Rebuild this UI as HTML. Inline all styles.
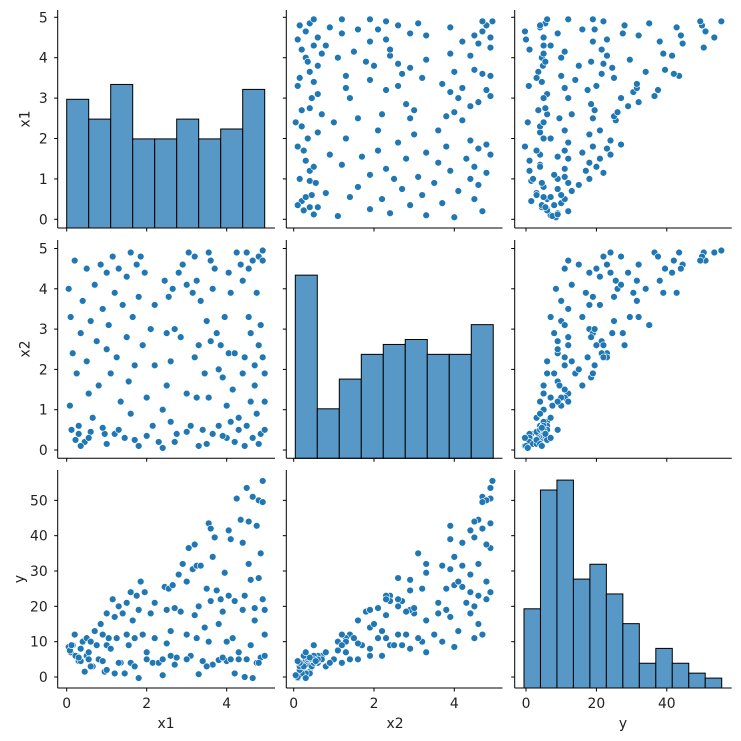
<!DOCTYPE html>
<html><head><meta charset="utf-8"><style>
html,body{margin:0;padding:0;background:#fff;}
svg{display:block;font-family:"DejaVu Sans","Liberation Sans",sans-serif;}
</style></head><body>
<svg id="chart" width="741" height="741" viewBox="0 0 741 741" xmlns="http://www.w3.org/2000/svg"></svg>
<script>
// data: [x1, x2, y]
const x1Vals=[0.05,0.1,0.15,0.2,0.25,0.3,0.35,0.4,0.45,0.5,0.5,0.55,0.6,0.65,0.7,0.75,0.8,0.85,0.9,0.95,1.0,1.0,1.05,1.1,1.15,1.2,1.2,1.25,1.3,1.35,1.4,1.45,1.5,1.5,1.55,1.6,1.6,1.65,1.7,1.75,1.8,1.8,1.85,1.9,1.95,2.0,2.1,2.15,2.2,2.2,2.3,2.4,2.45,2.5,2.5,2.55,2.6,2.6,2.65,2.7,2.75,2.8,2.85,2.9,3.0,3.0,3.05,3.1,3.15,3.2,3.2,3.25,3.25,3.3,3.3,3.35,3.4,3.45,3.5,3.55,3.55,3.6,3.6,3.65,3.65,3.7,3.75,3.8,3.8,3.85,3.9,3.95,4.0,4.0,4.05,4.05,4.1,4.1,4.15,4.2,4.2,4.25,4.3,4.35,4.4,4.4,4.45,4.45,4.5,4.5,4.55,4.55,4.6,4.6,4.65,4.65,4.7,4.7,4.75,4.75,4.8,4.8,4.85,4.85,4.9,4.9,4.9,4.95,4.95,4.95,0.6,1.0,1.3,2.0,2.7,3.0,3.5,4.3,0.9,1.7,2.4,3.9,4.8,0.35,0.08,0.12,0.22,0.3,0.55];
const x2Vals=[4.0,3.3,2.4,4.7,1.9,0.6,2.9,3.7,0.2,2.2,4.5,1.4,3.2,0.8,4.1,2.7,1.6,4.6,3.5,0.4,2.5,4.4,3.1,1.9,4.8,0.4,3.9,2.3,4.5,1.2,3.6,0.3,2.8,4.3,1.7,4.9,0.9,3.3,2.1,4.6,0.1,3.8,4.8,2.6,4.4,1.3,3.0,0.6,2.1,3.6,0.2,1.0,4.2,2.9,1.6,3.8,2.2,0.7,4.0,3.0,0.4,4.4,2.8,4.6,4.1,1.4,4.9,0.6,3.9,2.3,4.8,1.3,4.2,0.1,2.6,3.7,0.5,1.9,3.2,1.3,4.9,2.7,4.7,0.4,4.0,4.5,2.9,0.6,2.0,2.6,1.8,3.3,0.3,1.1,4.4,2.4,0.7,3.9,1.5,2.4,0.2,4.9,0.8,4.6,1.9,4.2,0.1,2.3,0.6,4.9,3.3,4.5,1.2,2.9,0.3,4.7,1.6,2.1,3.9,0.9,4.8,2.6,3.1,0.4,4.95,2.3,4.7,1.9,0.5,1.2,0.45,0.15,0.5,0.35,0.2,0.45,0.15,0.5,0.55,0.25,0.05,0.35,0.15,0.1,1.1,0.5,0.25,0.4,0.3];
const yVals=[8.5,7,9,12,6,4.5,8,10,1.5,6,11,5,10,3,13,9,5,15,12,1.5,9,18,11,8,22,1,17,11,20,4,18,1,12,21,9,24,4,16,11,23,-0.3,19,27,12,24,7,18,4,11,21,4,5,25.5,19,9.5,25,13,6,26,19.5,5.5,29,18.5,32,27,12,36.5,6,30.5,17.5,37.5,11,31.5,0.8,20,31.5,4.5,14,25,10,43.5,21.5,42,3.5,34,39.5,24.5,4.8,15,22,18.5,29.5,4.5,10,41.5,23,5,39,11,21.5,1,50.5,7,44.5,19,38,0,23,5,53.5,32,44,9,27.5,-0.3,51,16,19.5,42.8,4,50,28,35,5.5,55.5,22,49.5,19,6,12,3,2,4,5,3.5,5,3,5,4.5,3,0.5,5.5,4,4.5,7.5,9,6,5.5,7];
// histogram counts
const x1Counts=[26,22,29,18,18,22,18,20,28];
const x2Counts=[37,10,16,21,23,24,21,21,27];
const yCounts=[16,40,42,22,25,19,13,5,8,5,3,2];
const x1BinRange=[0.0,4.95], x2BinRange=[0.04,4.97], yBinRange=[-0.57,55.6];
const x1Ticks=[0,1,2,3,4,5], x1ColTicks=[0,2,4];
const x2Ticks=[0,1,2,3,4,5], x2ColTicks=[0,2,4];
const yTicks=[0,10,20,30,40,50], yColTicks=[0,20,40];

const NS="http://www.w3.org/2000/svg";
const svg=document.getElementById('chart');
function mk(tag,attrs,parent){const e=document.createElementNS(NS,tag);for(const k in attrs)e.setAttribute(k,attrs[k]);(parent||svg).appendChild(e);return e;}

const colX=[v=>66.7+40*v, v=>293.7+40.15*v, v=>526+3.52*v];
const rowY=[v=>219.3-40.4*v, v=>450-40.3*v, v=>677-3.533*v];
const colBox=[[57.7,275],[286.3,502.5],[514.7,731.7]];
const rowBox=[[10,228],[240,458.3],[470,688]];
const vars=[x1Vals,x2Vals,yVals];
const names=['x1','x2','y'];
const rowTicks=[x1Ticks,x2Ticks,yTicks];
const colTicks=[x1ColTicks,x2ColTicks,yColTicks];
const hists=[[x1Counts,x1BinRange],[x2Counts,x2BinRange],[yCounts,yBinRange]];
const perCount=4.95;
const FS=13.9;

for(let r=0;r<3;r++){for(let c=0;c<3;c++){
  const g=mk('g',{});
  
  
  const [L,R]=colBox[c],[T,B]=rowBox[r];
  if(r===c){
    const [counts,range]=hists[c];
    const w=(range[1]-range[0])/counts.length;
    counts.forEach((n,i)=>{
      const x0=colX[c](range[0]+i*w),x1=colX[c](range[0]+(i+1)*w);
      const rect=mk('rect',{x:x0,y:B-n*perCount,width:x1-x0,height:n*perCount,fill:'#5798c7',stroke:'#000','stroke-width':1},g);
      
      
    });
  } else {
    const xs=vars[c],ys=vars[r];
    for(let i=0;i<xs.length;i++){
      const pt=mk('circle',{cx:colX[c](xs[i]),cy:rowY[r](ys[i]),r:3.4,fill:'#1f77b4',stroke:'#fff','stroke-width':0.6},g);
      
      
    }
  }
  mk('line',{x1:L,y1:T,x2:L,y2:B,stroke:'#000','stroke-width':1},g);
  mk('line',{x1:L,y1:B,x2:R,y2:B,stroke:'#000','stroke-width':1},g);
  rowTicks[r].forEach(t=>{const y=rowY[r](t);
    mk('line',{x1:L-3.5,y1:y,x2:L,y2:y,stroke:'#000','stroke-width':1},g);
    if(c===0){const tx=mk('text',{x:L-10,y:y+5,'text-anchor':'end','font-size':FS,fill:'#222'},g);tx.textContent=t;
      
      }
  });
  colTicks[c].forEach(t=>{const x=colX[c](t);
    mk('line',{x1:x,y1:B,x2:x,y2:B+3.5,stroke:'#000','stroke-width':1},g);
    if(r===2){const tx=mk('text',{x:x,y:B+20,'text-anchor':'middle','font-size':FS,fill:'#222'},g);tx.textContent=t;
      
      }
  });
}}
const xt=[[166,'x1'],[395,'x2'],[623,'y']];
xt.forEach(([x,s])=>{const t=mk('text',{x:x,y:728,'text-anchor':'middle','font-size':FS,fill:'#222'});t.textContent=s;
  
  });
const yt=[[119,'x1',29.5],[349,'x2',29.5],[579,'y',24]];
yt.forEach(([y,s,x])=>{const t=mk('text',{x:x,y:y,'text-anchor':'middle','font-size':FS,fill:'#222',transform:'rotate(-90 '+x+' '+y+')'});t.textContent=s;
  
  });
</script>
</body></html>
